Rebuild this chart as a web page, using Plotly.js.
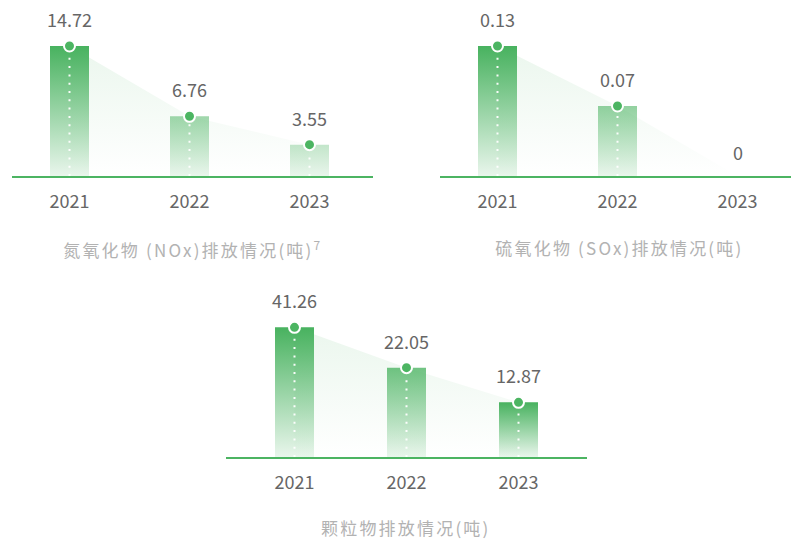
<!DOCTYPE html>
<html>
<head>
<meta charset="utf-8">
<script src="https://cdn.plot.ly/plotly-3.0.1.min.js"></script>
<style>
  html, body { margin: 0; padding: 0; background: #fff; }
  #chart { width: 791px; height: 540px; }
</style>
</head>
<body>
<div id="chart"></div>
<script>
// ---- data ----
const years = ['2021', '2022', '2023'];
const noxValues = [14.72, 6.76, 3.55];
const soxValues = [0.13, 0.07, 0];
const pmValues = [41.26, 22.05, 12.87];
const noxTitle = '氮氧化物 (NOx)排放情况(吨)<sup>7</sup>';
const soxTitle = '硫氧化物 (SOx)排放情况(吨)';
const pmTitle = '颗粒物排放情况(吨)';

// ---- styles / layout geometry (pixels) ----
const W = 791, H = 540;
const panels = [
  { values: noxValues, title: noxTitle, xPx: [12, 373], yPx: [20, 176], firstCenter: 69.5, step: 120, barPx: 39,
    log: false, topPx: 130, sharedGrad: true, topAlpha: [1, 1, 1], titlePos: [193, 249] },
  { values: soxValues, title: soxTitle, xPx: [440, 791], yPx: [20, 176], firstCenter: 497.5, step: 120, barPx: 39,
    log: false, topPx: 130, sharedGrad: true, topAlpha: [1, 1, 1], titlePos: [619, 247] },
  { values: pmValues, title: pmTitle, xPx: [226, 587], yPx: [300, 457], firstCenter: 294.5, step: 112, barPx: 39,
    log: true, logBase: 0.7407, pxPerDecade: 148.24, sharedGrad: false, topAlpha: [1, 0.78, 1], titlePos: [406, 527] }
];

const traces = [];
const annotations = [];
const titleIdx = [];
const layout = {
  width: W, height: H,
  margin: { l: 0, r: 0, t: 0, b: 0 },
  paper_bgcolor: '#fff', plot_bgcolor: 'rgba(0,0,0,0)',
  showlegend: false,
  font: { family: '"Noto Sans CJK SC", "Noto Sans", sans-serif', color: '#666' },
  annotations: annotations
};

panels.forEach((p, k) => {
  const sfx = k === 0 ? '' : String(k + 1);
  const xa = 'x' + sfx, ya = 'y' + sfx;
  const n = p.values.length;
  const idx = p.values.map((_, i) => i);
  const domH = p.yPx[1] - p.yPx[0];
  const maxV = Math.max(...p.values);
  let yRange, base;
  if (p.log) {
    yRange = [p.logBase, p.logBase + domH / p.pxPerDecade];
    base = Math.pow(10, yRange[0]);
  } else {
    yRange = [0, maxV * domH / p.topPx];
    base = 0;
  }
  const xRange = [(p.xPx[0] - p.firstCenter) / p.step, (p.xPx[1] - p.firstCenter) / p.step];
  const bw = p.barPx / p.step;

  layout['xaxis' + sfx] = {
    domain: [p.xPx[0] / W, p.xPx[1] / W], range: xRange, anchor: ya,
    tickvals: idx, ticktext: years, tickfont: { size: 18, color: '#666' }, ticklabelstandoff: 8,
    showline: true, linecolor: 'rgb(76,180,98)', linewidth: 2,
    showgrid: false, zeroline: false, ticks: '', fixedrange: true
  };
  layout['yaxis' + sfx] = {
    domain: [1 - p.yPx[1] / H, 1 - p.yPx[0] / H], range: yRange, anchor: xa,
    type: p.log ? 'log' : 'linear', visible: false, showgrid: false, zeroline: false, fixedrange: true
  };

  // trend area behind bars
  traces.push({
    type: 'scatter', mode: 'lines', xaxis: xa, yaxis: ya, hoverinfo: 'skip',
    x: idx.concat([n - 1, 0]), y: p.values.map(v => (v > 0 ? v : base)).concat([base, base]),
    fill: 'toself', line: { width: 0, color: 'rgba(0,0,0,0)' },
    fillgradient: { type: 'vertical', colorscale: [[0, 'rgba(72,178,95,0)'], [1, 'rgba(72,178,95,0.11)']] }
  });

  // bars with vertical gradient
  p.values.forEach((v, i) => {
    if (!(v > 0)) return;
    const grad = { type: 'vertical', colorscale: [[0, 'rgba(72,178,95,0.12)'], [1, 'rgba(72,178,95,' + p.topAlpha[i] + ')']] };
    if (p.sharedGrad) { grad.start = 0; grad.stop = maxV; }
    traces.push({
      type: 'scatter', mode: 'lines', xaxis: xa, yaxis: ya, hoverinfo: 'skip',
      x: [i - bw / 2, i + bw / 2, i + bw / 2, i - bw / 2, i - bw / 2],
      y: [base, base, v, v, base],
      fill: 'toself', line: { width: 0, color: 'rgba(0,0,0,0)' }, fillgradient: grad
    });
    // dotted white guide
    traces.push({
      type: 'scatter', mode: 'lines', xaxis: xa, yaxis: ya, hoverinfo: 'skip',
      x: [i, i], y: [base, v], line: { color: 'rgba(255,255,255,0.95)', width: 2, dash: '2px,6.3px' }
    });
  });

  // markers
  const mx = [], my = [];
  p.values.forEach((v, i) => { if (v > 0) { mx.push(i); my.push(v); } });
  traces.push({
    type: 'scatter', mode: 'markers', xaxis: xa, yaxis: ya, hoverinfo: 'skip', cliponaxis: false,
    x: mx, y: my, marker: { size: 11, color: 'rgb(76,181,98)', line: { color: '#fff', width: 2 } }
  });

  // value labels
  p.values.forEach((v, i) => {
    const yv = p.log ? Math.log10(v) : v;
    annotations.push({
      xref: xa, yref: ya, x: i, y: yv, text: String(v), showarrow: false,
      yanchor: 'middle', yshift: v > 0 ? 27 : 24, font: { size: 18, color: '#666' }
    });
  });

  // panel title
  titleIdx.push(annotations.length);
  annotations.push({
    xref: 'paper', yref: 'paper', x: p.titlePos[0] / W, y: 1 - p.titlePos[1] / H,
    xanchor: 'center', yanchor: 'middle', showarrow: false, text: p.title,
    font: { size: 17, color: '#b2b2b2' }
  });
});

// letter spacing for the panel titles
const css = document.createElement('style');
css.textContent = titleIdx.map(i => 'g.annotation[data-index="' + i + '"] text').join(',') + '{letter-spacing:2.2px;}';
document.head.appendChild(css);

Plotly.newPlot('chart', traces, layout, { displayModeBar: false, staticPlot: true });
</script>
</body>
</html>
